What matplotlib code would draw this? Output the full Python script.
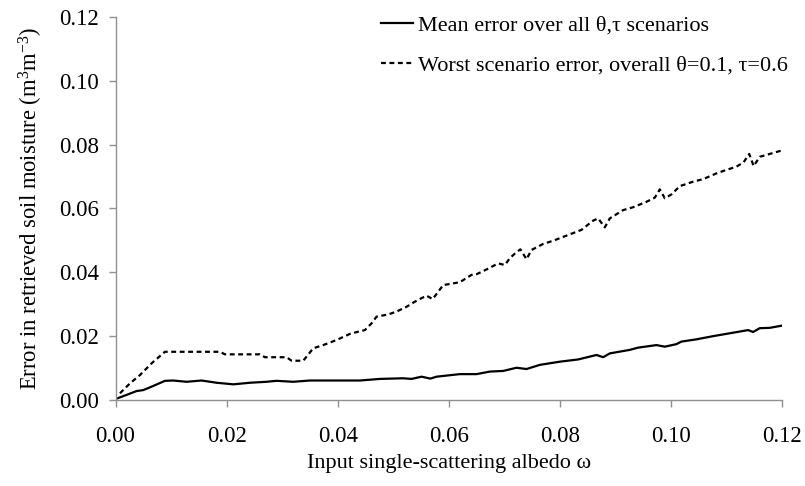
import matplotlib
matplotlib.use("Agg")
import matplotlib.pyplot as plt

# mean error over all scenarios (solid)
mean_x = [0.0, 0.002, 0.0038, 0.005, 0.0068, 0.0089, 0.0104, 0.0128, 0.0155,
          0.0182, 0.0212, 0.0242, 0.0272, 0.029, 0.032, 0.035, 0.044, 0.0476,
          0.0518, 0.0533, 0.0551, 0.0567, 0.0578, 0.062, 0.065, 0.0674, 0.0698,
          0.0722, 0.074, 0.0764, 0.08, 0.0833, 0.0866, 0.0878, 0.089, 0.0926,
          0.0941, 0.0974, 0.0989, 0.101, 0.1019, 0.1046, 0.1076, 0.1106, 0.1139,
          0.1148, 0.116, 0.1178, 0.12]
mean_y = [0.0003, 0.0016, 0.0028, 0.0031, 0.0044, 0.0060, 0.0061, 0.0057, 0.0061,
          0.0054, 0.0049, 0.0054, 0.0057, 0.0060, 0.0057, 0.0061, 0.0061, 0.0066,
          0.0068, 0.0066, 0.0073, 0.0067, 0.0073, 0.0081, 0.0081, 0.0089, 0.0091,
          0.0101, 0.0097, 0.0110, 0.0120, 0.0127, 0.0141, 0.0134, 0.0146, 0.0157,
          0.0164, 0.0172, 0.0167, 0.0175, 0.0183, 0.0190, 0.0200, 0.0209, 0.0219,
          0.0213, 0.0225, 0.0226, 0.0233]

# worst scenario error (dashed)
worst_x = [0.0008, 0.0026, 0.0044, 0.0065, 0.0089, 0.0188, 0.0197, 0.026, 0.0269,
           0.0308, 0.0317, 0.0338, 0.0356, 0.0374, 0.0398, 0.0422, 0.0437, 0.0449,
           0.0461, 0.047, 0.0491, 0.0506, 0.0524, 0.0539, 0.0551, 0.056, 0.0571,
           0.0581, 0.059, 0.062, 0.0629, 0.0641, 0.065, 0.0668, 0.0689, 0.0701,
           0.071, 0.0721, 0.0729, 0.074, 0.0749, 0.077, 0.0788, 0.0839, 0.086,
           0.0869, 0.0881, 0.089, 0.0914, 0.0932, 0.0956, 0.0971, 0.098, 0.0989,
           0.1001, 0.1016, 0.104, 0.1058, 0.1082, 0.11, 0.1118, 0.1131, 0.1141,
           0.1149, 0.116, 0.1178, 0.12]
worst_y = [0.0021, 0.0052, 0.0078, 0.0115, 0.0151, 0.0151, 0.0143, 0.0143, 0.0134,
           0.0134, 0.0123, 0.0123, 0.0162, 0.0172, 0.0188, 0.0207, 0.0214, 0.0219,
           0.0240, 0.0261, 0.0268, 0.0277, 0.0292, 0.0308, 0.0319, 0.0327, 0.0316,
           0.0339, 0.0360, 0.0369, 0.0379, 0.0392, 0.0394, 0.0409, 0.0428, 0.0423,
           0.0444, 0.0462, 0.0472, 0.0441, 0.0470, 0.0489, 0.0499, 0.0533, 0.0562,
           0.0569, 0.0541, 0.0569, 0.0595, 0.0604, 0.0621, 0.0634, 0.0660, 0.0632,
           0.0644, 0.0670, 0.0684, 0.0692, 0.0710, 0.0721, 0.0731, 0.0745, 0.0771,
           0.0733, 0.0762, 0.0771, 0.0782]

x_ticks = [0.0, 0.02, 0.04, 0.06, 0.08, 0.10, 0.12]
y_ticks = [0.0, 0.02, 0.04, 0.06, 0.08, 0.10, 0.12]

plt.rcParams["font.family"] = ["Liberation Serif", "DejaVu Serif"]
plt.rcParams["mathtext.fontset"] = "custom"
plt.rcParams["mathtext.rm"] = "Liberation Serif"
plt.rcParams["mathtext.it"] = "Liberation Serif"

fig = plt.figure(figsize=(8.05, 4.86), dpi=100)
ax = fig.add_axes([0.1435, 0.177, 0.8279, 0.788])

ax.plot(mean_x, mean_y, color="black", lw=1.6,
        label="Mean error over all \u03b8,\u03c4 scenarios")
ax.plot(worst_x, worst_y, color="black", lw=1.6, dashes=(2.2, 1.6),
        label="Worst scenario error, overall \u03b8=0.1, \u03c4=0.6")

ax.set_xlim(0, 0.12)
ax.set_ylim(0, 0.12)
ax.set_xticks(x_ticks)
ax.set_yticks(y_ticks)
ax.set_xticklabels([f"{v:.2f}" for v in x_ticks])
ax.set_yticklabels([f"{v:.2f}" for v in y_ticks])

gray = "#909090"
for side in ("top", "right"):
    ax.spines[side].set_visible(False)
for side in ("left", "bottom"):
    ax.spines[side].set_color(gray)
    ax.spines[side].set_linewidth(1.0)
ax.tick_params(axis="both", direction="out", length=5, width=1.0,
               color=gray, labelsize=16.5)
ax.tick_params(axis="x", pad=14)
ax.tick_params(axis="y", pad=7)

ax.set_xlabel("Input single-scattering albedo \u03c9", fontsize=16, labelpad=5)
ax.set_ylabel("Error in retrieved soil moisture (m$^{3}$m$^{-3}$)",
              fontsize=16.3, labelpad=10)

ax.legend(loc="upper left", frameon=False, fontsize=16, handlelength=1.45,
          handletextpad=0.2, labelspacing=0.87, borderpad=0, borderaxespad=0,
          bbox_to_anchor=(381 / 805, 1 - 15 / 486),
          bbox_transform=fig.transFigure)

fig.savefig("out.png", dpi=100)
